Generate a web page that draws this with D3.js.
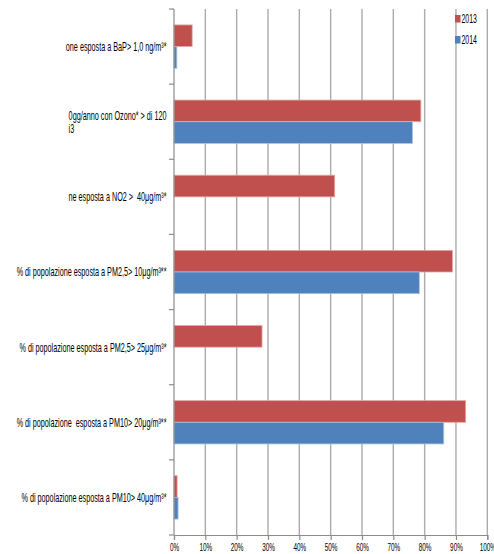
<!DOCTYPE html>
<html>
<head>
<meta charset="utf-8">
<script src="https://cdn.jsdelivr.net/npm/d3@7"></script>
<style>
  html, body { margin: 0; padding: 0; background: #fff; }
  svg { display: block; }
  text { font-family: "Liberation Sans Narrow", "Liberation Sans", "DejaVu Sans Condensed", sans-serif; fill: #000; white-space: pre; }
</style>
</head>
<body>
<script>
// Indicator labels, top to bottom (each entry is a list of lines)
const categories = [
  ["one esposta a BaP> 1,0 ng/m³*"],
  ["0gg/anno con Ozono* > di 120", "i3"],
  ["ne esposta a NO2 >  40μg/m³*"],
  ["% di popolazione esposta a PM2,5> 10μg/m³**"],
  ["% di popolazione esposta a PM2,5> 25μg/m³*"],
  ["% di popolazione  esposta a PM10> 20μg/m³**"],
  ["% di popolazione esposta a PM10> 40μg/m³*"]
];
const seriesNames = ["2013", "2014"];
const values2013 = [5.8, 78.8, 51.3, 88.9, 28.1, 93.1, 1.0];
const values2014 = [0.9, 76.1, null, 78.3, null, 86.1, 1.3];
const xTicks = [0, 10, 20, 30, 40, 50, 60, 70, 80, 90, 100];
const colors = { "2013": "#C0504D", "2014": "#4F81BD" };
const strokes = { "2013": "#E3A9A7", "2014": "#A9C1E0" };

const W = 494, H = 554;
const plot = { left: 174, right: 487.3, top: 9, bottom: 535 };
const labelSize = 12.5;

const svg = d3.select("body").append("svg").attr("width", W).attr("height", H);

const x = d3.scaleLinear().domain([0, 100]).range([plot.left, plot.right]);
const y = d3.scaleBand().domain(d3.range(categories.length)).range([plot.top, plot.bottom]).padding(0);
const ySub = d3.scaleBand().domain(seriesNames).range([0, y.bandwidth()]).paddingInner(0).paddingOuter(0.735);

// Horizontal squeeze applied to all text
const probe = svg.append("text").attr("font-size", labelSize).text(categories[3][0]);
const sx = 150 / probe.node().getComputedTextLength();
probe.remove();

// Vertical gridlines
svg.append("g").selectAll("line").data(xTicks.filter(d => d > 0)).join("line")
  .attr("x1", d => x(d)).attr("x2", d => x(d))
  .attr("y1", plot.top).attr("y2", plot.bottom)
  .attr("stroke", "#ababab").attr("stroke-width", 1.4);

// Bars
const rows = categories.map((c, i) => ({ i, vals: [
  { s: "2013", v: values2013[i] }, { s: "2014", v: values2014[i] }
].filter(d => d.v != null) }));

const gRows = svg.append("g").selectAll("g").data(rows).join("g")
  .attr("transform", d => `translate(0,${y(d.i)})`);
gRows.selectAll("rect").data(d => d.vals).join("rect")
  .attr("x", x(0))
  .attr("y", d => ySub(d.s))
  .attr("width", d => x(d.v) - x(0))
  .attr("height", ySub.bandwidth())
  .attr("fill", d => colors[d.s])
  .attr("stroke", d => strokes[d.s])
  .attr("stroke-width", 0.8);

// Category axis line and boundary ticks
const catAxis = svg.append("g");
catAxis.append("line").attr("x1", plot.left).attr("x2", plot.left)
  .attr("y1", plot.top).attr("y2", plot.bottom).attr("stroke", "#8c8c8c").attr("stroke-width", 1.2);
catAxis.selectAll("line.tk").data(d3.range(categories.length + 1)).join("line").attr("class", "tk")
  .attr("x1", plot.left - 5).attr("x2", plot.left)
  .attr("y1", d => plot.top + d * y.step()).attr("y2", d => plot.top + d * y.step())
  .attr("stroke", "#8c8c8c").attr("stroke-width", 1.2);

// Category labels: first line right-aligned to the axis, wrapped lines start under it
const lineH = 13;
const labels = svg.append("g").selectAll("g").data(categories).join("g")
  .attr("transform", (d, i) => `translate(166.5,${y(i) + y.bandwidth() / 2})`);
labels.each(function (lines) {
  const t = d3.select(this).append("text")
    .attr("font-size", labelSize)
    .attr("transform", `scale(${sx},1)`);
  const first = t.append("tspan").attr("text-anchor", "end").attr("x", 0)
    .attr("y", -(lines.length - 1) / 2 * lineH).attr("dy", "0.35em").text(lines[0]);
  const w = first.node().getComputedTextLength();
  lines.slice(1).forEach((ln, k) => {
    t.append("tspan").attr("text-anchor", "start").attr("x", -w)
      .attr("y", (k + 1 - (lines.length - 1) / 2) * lineH)
      .attr("dy", "0.35em").text(ln);
  });
});

// Value axis
const xAxis = svg.append("g").attr("transform", `translate(0,${plot.bottom})`)
  .call(d3.axisBottom(x).tickValues(xTicks).tickFormat(d => d + "%").tickSize(5).tickPadding(4));
xAxis.select(".domain").attr("stroke", "#8c8c8c").attr("stroke-width", 1.2);
xAxis.selectAll(".tick line").attr("stroke", "#8c8c8c").attr("stroke-width", 1.2);
xAxis.selectAll(".tick text").attr("font-size", 11).attr("fill", "#000")
  .attr("font-family", "Liberation Sans Narrow, Liberation Sans, sans-serif")
  .attr("dy", "0.6em")
  .attr("transform", `scale(${sx},1)`);

// Legend
const legend = svg.append("g").selectAll("g").data(seriesNames).join("g")
  .attr("transform", (d, i) => `translate(455,${15 + i * 21})`);
legend.append("rect").attr("width", 5.5).attr("height", 7.5).attr("fill", d => colors[d]);
legend.append("text").attr("x", 6.5).attr("y", 3.8).attr("dy", "0.35em")
  .attr("font-size", 12)
  .attr("transform", `translate(6.5,0) scale(${sx},1) translate(-6.5,0)`)
  .text(d => d);
</script>
</body>
</html>
